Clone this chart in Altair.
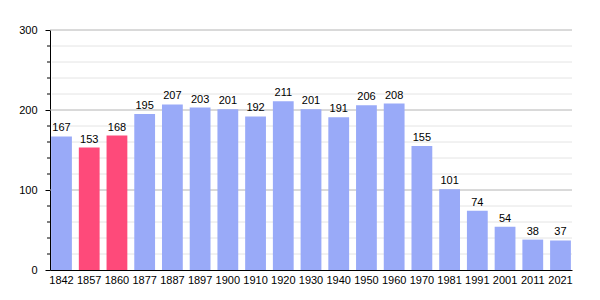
import altair as alt
import pandas as pd

years = ["1842", "1857", "1860", "1877", "1887", "1897", "1900", "1910", "1920", "1930",
         "1940", "1950", "1960", "1970", "1981", "1991", "2001", "2011", "2021"]
population = [167, 153, 168, 195, 207, 203, 201, 192, 211, 201,
              191, 206, 208, 155, 101, 74, 54, 38, 37]
highlight = ["1857", "1860"]
minor_values = [v for v in range(20, 300, 20) if v % 100 != 0]
major_values = [0, 100, 200, 300]

df = pd.DataFrame({"year": years, "pop": population})
df["kind"] = ["red" if y in highlight else "blue" for y in years]

minor_df = pd.DataFrame({"v": minor_values})
major_df = pd.DataFrame({"v": [100, 200, 300]})

FONT = "Liberation Sans"

yscale = alt.Scale(domain=[0, 300], nice=False)
yaxis = alt.Axis(values=major_values, grid=False, tickSize=5,
                 tickColor="#000000", domainColor="#000000",
                 labelFont=FONT, labelFontSize=11, labelColor="#000000",
                 labelPadding=8, title=None)

minor_grid = alt.Chart(minor_df).mark_rule(color="#e4e4e4", strokeWidth=1).encode(
    y=alt.Y("v:Q", scale=yscale, axis=yaxis, title=None),
    x=alt.value(2), x2=alt.value(522)
)
minor_tick = alt.Chart(minor_df).mark_rule(color="#000000", strokeWidth=1).encode(
    y=alt.Y("v:Q", scale=yscale, axis=yaxis, title=None),
    x=alt.value(-3), x2=alt.value(0)
)
major_grid = alt.Chart(major_df).mark_rule(color="#b4b4b4", strokeWidth=1).encode(
    y=alt.Y("v:Q", scale=yscale, axis=yaxis, title=None),
    x=alt.value(0), x2=alt.value(522)
)

base = alt.Chart(df).encode(
    x=alt.X("year:N", sort=years, title=None,
            scale=alt.Scale(paddingInner=0.25, paddingOuter=0.04),
            axis=alt.Axis(labelAngle=0, ticks=False, domainColor="#000000",
                          labelFont=FONT, labelFontSize=11, labelColor="#000000",
                          labelPadding=4)),
)

bars = base.mark_bar().encode(
    y=alt.Y("pop:Q", scale=yscale, title=None, axis=yaxis),
    color=alt.Color("kind:N", legend=None,
                    scale=alt.Scale(domain=["blue", "red"], range=["#99aaf8", "#fe4a7a"])),
)

labels = base.mark_text(baseline="bottom", dy=-3, font=FONT, fontSize=11, color="#000000").encode(
    y=alt.Y("pop:Q", scale=yscale, title=None, axis=yaxis),
    text="pop:Q",
)

chart = alt.layer(minor_grid, major_grid, minor_tick, bars, labels).properties(
    width=522, height=240,
    padding={"left": 50, "top": 30, "right": 28, "bottom": 30},
    autosize="none",
    background="white",
).configure_view(stroke=None)

chart.save("out.html", embed_options={"renderer": "svg", "actions": False})
